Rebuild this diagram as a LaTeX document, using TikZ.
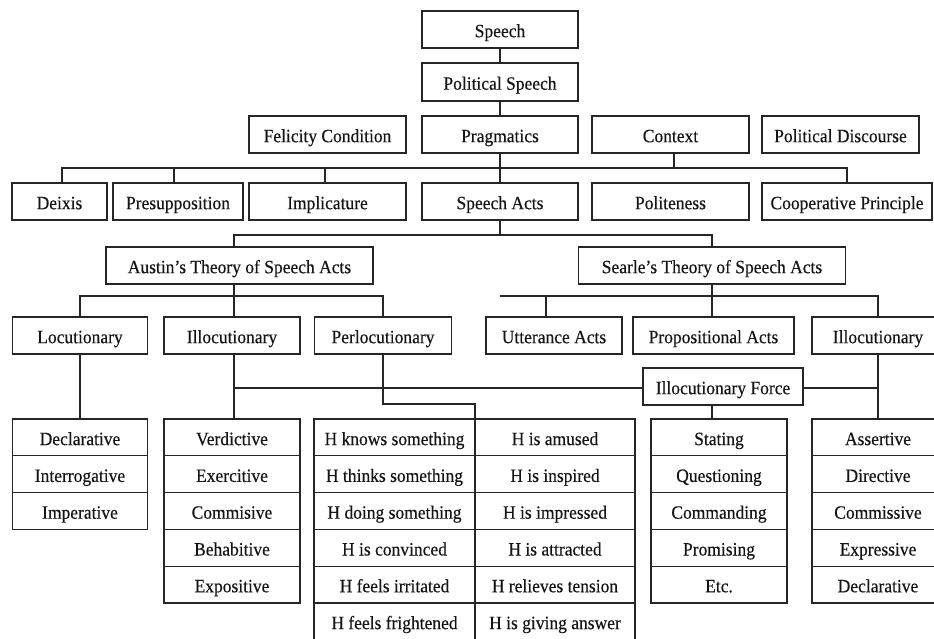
\documentclass[tikz,border=0pt]{standalone}
\usepackage{fontspec}
\setmainfont{Liberation Serif}[FakeStretch=0.93,FakeBold=0.3]
\newcommand\boxfont{\fontsize{18.8}{21}\selectfont}
\definecolor{linec}{HTML}{262626}
\definecolor{txtc}{HTML}{141414}
\begin{document}
\begin{tikzpicture}[x=1pt,y=-1pt,
  box/.style={draw=linec, line width=1.3pt, inner sep=0pt, outer sep=0pt, font=\boxfont, text=txtc, minimum height=37pt, text height=17.4pt, text depth=2pt},
  cell/.style={box, minimum height=36.8pt},
  conn/.style={draw=linec, line width=1.45pt}]
\useasboundingbox[fill=white] (0,0) rectangle (934,639);
% top chain
\node[box,minimum width=156] (speech) at (500,29.5) {Speech};
\node[box,minimum width=156,minimum height=38] (polsp) at (500,82) {Political Speech};
% row 3
\node[box,minimum width=157] (felic) at (327.5,134.5) {Felicity Condition};
\node[box,minimum width=156] (prag) at (500,134.5) {Pragmatics};
\node[box,minimum width=157] (context) at (670.5,134.5) {Context};
\node[box,minimum width=157] (poldisc) at (840.5,134.5) {Political Discourse};
% row 4
\node[box,minimum width=95] (deixis) at (59.5,201.5) {Deixis};
\node[box,minimum width=130] (presup) at (178,201.5) {Presupposition};
\node[box,minimum width=157] (impl) at (327.5,201.5) {Implicature};
\node[box,minimum width=156] (sa) at (500,201.5) {Speech Acts};
\node[box,minimum width=157] (polite) at (670.5,201.5) {Politeness};
\node[box,minimum width=170] (coop) at (847,201.5) {Cooperative Principle};
% theories
\node[box,minimum width=267] (austin) at (239.5,265.5) {Austin’s Theory of Speech Acts};
\node[box,minimum width=267] (searle) at (712,265.5) {Searle’s Theory of Speech Acts};
% row 6
\node[box,minimum width=135] (loc) at (80,335.5) {Locutionary};
\node[box,minimum width=136] (illoc) at (232,335.5) {Illocutionary};
\node[box,minimum width=137] (perl) at (383,335.5) {Perlocutionary};
\node[box,minimum width=136] (utt) at (554,335.5) {Utterance Acts};
\node[box,minimum width=161] (prop) at (713.5,335.5) {Propositional Acts};
\node[box,minimum width=132] (illocr) at (878,335.5) {Illocutionary};
\node[box,minimum width=160] (force) at (723,386.5) {Illocutionary Force};
% tables
\node[cell,minimum width=135] (decl1) at (80,437.4) {Declarative};
\node[cell,minimum width=135] (decl2) at (80,474.2) {Interrogative};
\node[cell,minimum width=135] (decl3) at (80,511.0) {Imperative};
\node[cell,minimum width=136] (verd1) at (232,437.4) {Verdictive};
\node[cell,minimum width=136] (verd2) at (232,474.2) {Exercitive};
\node[cell,minimum width=136] (verd3) at (232,511.0) {Commisive};
\node[cell,minimum width=136] (verd4) at (232,547.8) {Behabitive};
\node[cell,minimum width=136] (verd5) at (232,584.6) {Expositive};
\node[cell,minimum width=161] (hl1) at (394.5,437.4) {H knows something};
\node[cell,minimum width=161] (hl2) at (394.5,474.2) {H thinks something};
\node[cell,minimum width=161] (hl3) at (394.5,511.0) {H doing something};
\node[cell,minimum width=161] (hl4) at (394.5,547.8) {H is convinced};
\node[cell,minimum width=161] (hl5) at (394.5,584.6) {H feels irritated};
\node[cell,minimum width=161] (hl6) at (394.5,621.4) {H feels frightened};
\node[cell,minimum width=160] (hr1) at (555,437.4) {H is amused};
\node[cell,minimum width=160] (hr2) at (555,474.2) {H is inspired};
\node[cell,minimum width=160] (hr3) at (555,511.0) {H is impressed};
\node[cell,minimum width=160] (hr4) at (555,547.8) {H is attracted};
\node[cell,minimum width=160] (hr5) at (555,584.6) {H relieves tension};
\node[cell,minimum width=160] (hr6) at (555,621.4) {H is giving answer};
\node[cell,minimum width=136] (stat1) at (719,437.4) {Stating};
\node[cell,minimum width=136] (stat2) at (719,474.2) {Questioning};
\node[cell,minimum width=136] (stat3) at (719,511.0) {Commanding};
\node[cell,minimum width=136] (stat4) at (719,547.8) {Promising};
\node[cell,minimum width=136] (stat5) at (719,584.6) {Etc.};
\node[cell,minimum width=132] (ass1) at (878,437.4) {Assertive};
\node[cell,minimum width=132] (ass2) at (878,474.2) {Directive};
\node[cell,minimum width=132] (ass3) at (878,511.0) {Commissive};
\node[cell,minimum width=132] (ass4) at (878,547.8) {Expressive};
\node[cell,minimum width=132] (ass5) at (878,584.6) {Declarative};
% bus coordinates
\coordinate (bus1) at (500,168);
\coordinate (bus2) at (500,235);
\coordinate (bus3) at (500,296);
% connectors
\draw[conn] (speech) -- (polsp);
\draw[conn] (polsp) -- (prag);
\draw[conn] (prag) -- (sa);
\draw[conn] ([xshift=2.5pt]deixis.north) |- (bus1) -| (coop.north);
\draw[conn] ([xshift=-4pt]presup.north) -- ([xshift=-4pt]presup.north |- bus1);
\draw[conn] ([xshift=-2.5pt]impl.north) -- ([xshift=-2.5pt]impl.north |- bus1);
\draw[conn] ([xshift=3.5pt]context.south) -- ([xshift=3.5pt]context.south |- bus1);
\draw[conn] (sa.south) -- (bus2);
\draw[conn] ([xshift=2pt]illoc.north |- austin.north) |- (bus2) -| (searle.north);
\draw[conn] ([xshift=2pt]illoc.north |- austin.south) -- ([xshift=2pt]illoc.north);
\draw[conn] (loc.north) |- (bus3 -| illoc.north) -| (perl.north);
\draw[conn] (searle.south) -- (searle.south |- prop.north);
\draw[conn] ([xshift=-8pt]utt.north) |- (bus3) -| (illocr.north);
\draw[conn] (loc.south) -- (decl1.north);
\draw[conn] ([xshift=2pt]illoc.south) -- ([xshift=2pt]verd1.north);
\draw[conn] ([xshift=2pt,yshift=-1.5pt]illoc.south |- force.west) -- ([yshift=-1.5pt]force.west);
\draw[conn] ([yshift=-1.5pt]force.east) -- ([yshift=-1.5pt]force.east -| illocr.south);
\draw[conn] (illocr.south) -- (ass1.north);
\draw[conn] (perl.south) |- ([yshift=15pt]hl1.north east) -- (hl1.north east);
\draw[conn] (force.south -| searle.south) -- (stat1.north -| searle.south);
\end{tikzpicture}
\end{document}
